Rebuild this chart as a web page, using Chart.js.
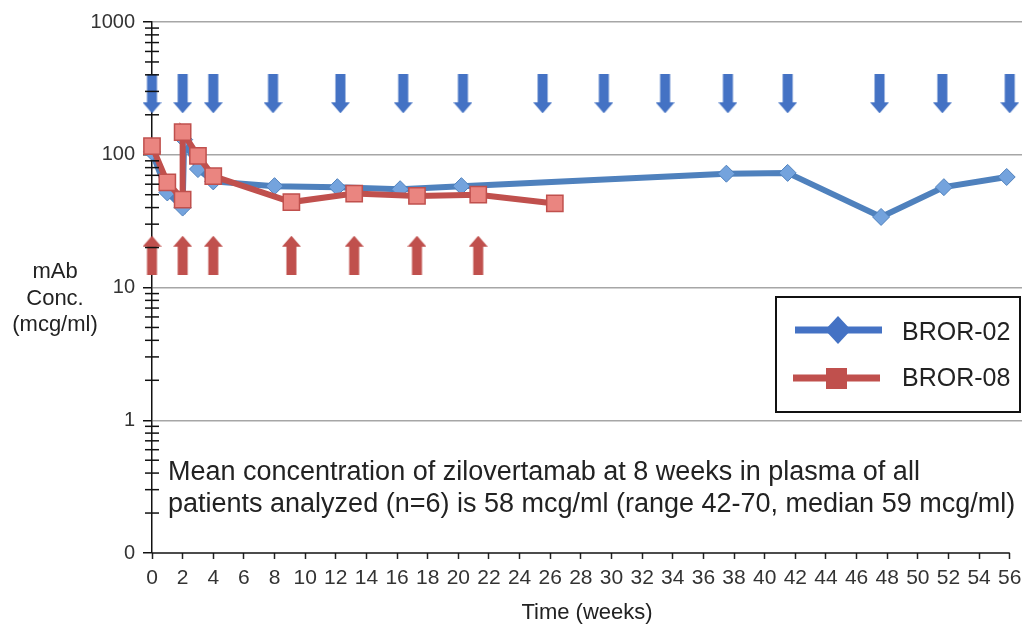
<!DOCTYPE html>
<html>
<head>
<meta charset="utf-8">
<script src="https://cdn.jsdelivr.net/npm/chart.js@4.4.1/dist/chart.umd.min.js"></script>
<style>
  html, body { margin: 0; padding: 0; background: #fff; }
  #wrap { width: 1035px; height: 629px; }
</style>
</head>
<body>
<div id="wrap"><canvas id="pkChart" width="1035" height="629"></canvas></div>
<script>
// Data (weeks / mcg/ml)
const bror02Weeks = [0, 1, 2, 2.1, 3, 4, 8, 12.1, 16.2, 20.2, 37.5, 41.5, 47.6, 51.7, 55.8];
const bror02Conc  = [105, 52, 40, 130, 78, 63, 58, 57, 55, 58, 72, 73, 34, 57, 68];
const bror08Weeks = [0, 1, 2, 2, 3, 4, 9.1, 13.2, 17.3, 21.3, 26.3];
const bror08Conc  = [116, 62, 46, 148, 98, 69, 44, 51, 49, 50, 43];

// Dosing arrows
const bror02DoseWeeks = [0, 2, 4, 7.9, 12.3, 16.4, 20.3, 25.5, 29.5, 33.5, 37.6, 41.5, 47.5, 51.6, 56];
const bror08DoseWeeks = [0, 2, 4, 9.1, 13.2, 17.3, 21.3];
const downArrowLevel = 288;
const upArrowLevel = 17.5;

const xTicks = [0, 2, 4, 6, 8, 10, 12, 14, 16, 18, 20, 22, 24, 26, 28, 30, 32, 34, 36, 38, 40, 42, 44, 46, 48, 50, 52, 54, 56];
const decades = [0.1, 1, 10, 100, 1000];

const blue = '#4f81bd';
const blueArrow = '#4472c4';
const red = '#c0504d';
const fontFamily = '"Liberation Sans", Arial, Helvetica, sans-serif';

function isDecade(v) {
    const l = Math.log10(v);
    return Math.abs(l - Math.round(l)) < 1e-9;
}

function makeArrow(color, down) {
    const c = document.createElement('canvas');
    c.width = 19;
    c.height = 39;
    const g = c.getContext('2d');
    g.fillStyle = color;
    g.beginPath();
    if (down) {
        g.moveTo(4.5, 0); g.lineTo(14.5, 0); g.lineTo(14.5, 28);
        g.lineTo(19, 28); g.lineTo(9.5, 39); g.lineTo(0, 28); g.lineTo(4.5, 28);
    } else {
        g.moveTo(9.5, 0); g.lineTo(19, 11); g.lineTo(14.5, 11); g.lineTo(14.5, 39);
        g.lineTo(4.5, 39); g.lineTo(4.5, 11); g.lineTo(0, 11);
    }
    g.closePath();
    g.fill();
    return c;
}

const toPoints = (xs, ys) => xs.map((x, i) => ({ x: x, y: ys[i] }));

// minor ticks, x axis line, y title, note text and legend box
const extras = {
    id: 'extras',
    afterDraw(chart) {
        const ctx = chart.ctx;
        const xs = chart.scales.x;
        const ys = chart.scales.y;
        const ax = xs.getPixelForValue(0);
        ctx.save();

        // minor log ticks crossing the axis
        ctx.strokeStyle = '#111';
        ctx.lineWidth = 1.5;
        ys.ticks.forEach(t => {
            if (isDecade(t.value)) return;
            const py = ys.getPixelForValue(t.value);
            ctx.beginPath();
            ctx.moveTo(ax - 7, py);
            ctx.lineTo(ax + 7, py);
            ctx.stroke();
        });

        // x axis line up to week 56
        const by = ys.getPixelForValue(0.1);
        ctx.beginPath();
        ctx.moveTo(ax, by);
        ctx.lineTo(xs.getPixelForValue(56), by);
        ctx.stroke();

        // y axis title
        ctx.fillStyle = '#222';
        ctx.font = '22px ' + fontFamily;
        ctx.textAlign = 'center';
        ctx.textBaseline = 'middle';
        ctx.fillText('mAb', 55, 272);
        ctx.fillText('Conc.', 55, 299);
        ctx.fillText('(mcg/ml)', 55, 325);

        // note
        ctx.textAlign = 'left';
        ctx.textBaseline = 'alphabetic';
        ctx.font = '27px ' + fontFamily;
        ctx.fillText('Mean concentration of zilovertamab at 8 weeks in plasma of all', 168, 480);
        ctx.fillText('patients analyzed (n=6) is 58 mcg/ml (range 42-70, median 59 mcg/ml)', 168, 512);

        // legend
        ctx.fillStyle = '#fff';
        ctx.fillRect(776, 297, 244, 115);
        ctx.strokeStyle = '#111';
        ctx.lineWidth = 2;
        ctx.strokeRect(776, 297, 244, 115);

        ctx.strokeStyle = blueArrow;
        ctx.lineWidth = 7;
        ctx.beginPath(); ctx.moveTo(795, 330); ctx.lineTo(882, 330); ctx.stroke();
        ctx.fillStyle = blueArrow;
        ctx.beginPath();
        ctx.moveTo(838, 316); ctx.lineTo(851, 330); ctx.lineTo(838, 344); ctx.lineTo(825, 330);
        ctx.closePath(); ctx.fill();

        ctx.strokeStyle = red;
        ctx.beginPath(); ctx.moveTo(793, 378); ctx.lineTo(880, 378); ctx.stroke();
        ctx.fillStyle = red;
        ctx.fillRect(826, 368, 21, 21);

        ctx.fillStyle = '#222';
        ctx.font = '25px ' + fontFamily;
        ctx.textBaseline = 'middle';
        ctx.fillText('BROR-02', 902, 333);
        ctx.fillText('BROR-08', 902, 379);
        ctx.restore();
    }
};

new Chart(document.getElementById('pkChart'), {
    type: 'line',
    data: {
        datasets: [
            {
                label: 'BROR-08',
                data: toPoints(bror08Weeks, bror08Conc),
                borderColor: red,
                borderWidth: 6,
                pointStyle: 'rect',
                pointRadius: 11.5,
                pointBackgroundColor: '#ea8580',
                pointBorderColor: red,
                pointBorderWidth: 1.5,
                tension: 0,
                clip: false,
                order: 1
            },
            {
                label: 'BROR-02',
                data: toPoints(bror02Weeks, bror02Conc),
                borderColor: blue,
                borderWidth: 6,
                pointStyle: 'rectRot',
                pointRadius: 8.5,
                pointBackgroundColor: '#74a3dd',
                pointBorderColor: blue,
                pointBorderWidth: 1,
                tension: 0,
                clip: false,
                order: 2
            },
            {
                label: 'BROR-02 dose',
                data: bror02DoseWeeks.map(w => ({ x: w, y: downArrowLevel })),
                showLine: false,
                pointStyle: makeArrow(blueArrow, true),
                clip: false,
                order: 3
            },
            {
                label: 'BROR-08 dose',
                data: bror08DoseWeeks.map(w => ({ x: w, y: upArrowLevel })),
                showLine: false,
                pointStyle: makeArrow(red, false),
                clip: false,
                order: 4
            }
        ]
    },
    options: {
        responsive: false,
        animation: false,
        layout: { padding: { left: 0, top: 22, right: 13, bottom: 0 } },
        plugins: {
            legend: { display: false },
            tooltip: { enabled: false }
        },
        scales: {
            x: {
                type: 'linear',
                min: 0,
                max: 56.8,
                afterBuildTicks: scale => { scale.ticks = xTicks.map(v => ({ value: v })); },
                afterFit: scale => { scale.height = 76; },
                grid: { display: true, drawOnChartArea: false, tickLength: 6, tickColor: '#222', tickWidth: 1.5 },
                border: { display: false },
                ticks: {
                    color: '#333',
                    padding: 7,
                    maxRotation: 0,
                    autoSkip: false,
                    font: { size: 21, family: fontFamily }
                },
                title: {
                    display: true,
                    text: 'Time (weeks)',
                    color: '#222',
                    padding: { top: 0, bottom: 3 },
                    font: { size: 22, family: fontFamily }
                }
            },
            y: {
                type: 'logarithmic',
                min: 0.1,
                max: 1000,
                afterBuildTicks: scale => {
                    const t = [];
                    decades.slice(0, -1).forEach(d => {
                        for (let k = 1; k <= 9; k++) t.push({ value: +(d * k).toPrecision(3) });
                    });
                    t.push({ value: 1000 });
                    scale.ticks = t;
                },
                afterFit: scale => { scale.width = 152; },
                grid: {
                    tickLength: 9,
                    tickWidth: 1.5,
                    color: c => (isDecade(c.tick.value) && c.tick.value > 0.1) ? '#a6a6a6' : 'rgba(0,0,0,0)',
                    tickColor: c => isDecade(c.tick.value) ? '#111' : 'rgba(0,0,0,0)',
                    lineWidth: 1.5
                },
                border: { display: true, color: '#111', width: 1.5 },
                ticks: {
                    color: '#333',
                    padding: 8,
                    autoSkip: false,
                    font: { size: 20, family: fontFamily },
                    callback: v => isDecade(v) ? (v === 0.1 ? '0' : String(Math.round(v))) : ''
                }
            }
        }
    },
    plugins: [extras]
});
</script>
</body>
</html>
